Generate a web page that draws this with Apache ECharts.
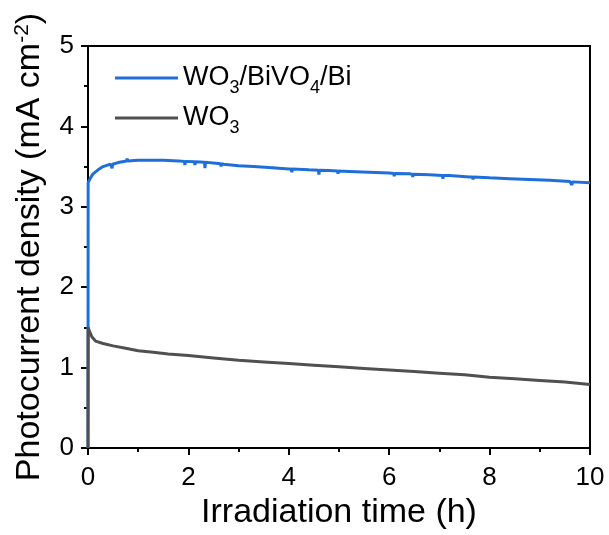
<!DOCTYPE html>
<html>
<head>
<meta charset="utf-8">
<script src="https://cdn.jsdelivr.net/npm/echarts@6/dist/echarts.min.js"></script>
<style>html,body{margin:0;padding:0;background:#fff}#c{width:609px;height:535px}</style>
</head>
<body>
<div id="c"></div>
<script>
// Data (time in h, photocurrent in mA cm^-2)
const blueName = 'WO3/BiVO4/Bi';
const grayName = 'WO3';
const xTicks = [0, 2, 4, 6, 8, 10];
const yTicks = [0, 1, 2, 3, 4, 5];

const blueT = [0, 0.003, 0.05, 0.1, 0.2, 0.3, 0.45, 0.47, 0.48, 0.49, 0.6, 0.77, 0.78, 0.79, 0.8, 1.0, 1.2, 1.5, 1.8, 1.92, 1.93, 1.94, 2.12, 2.13, 2.14, 2.32, 2.33, 2.34, 2.4, 2.64, 2.65, 2.66, 2.7, 3.0, 3.3, 3.6, 4.0, 4.05, 4.06, 4.07, 4.4, 4.59, 4.6, 4.61, 4.8, 4.97, 4.98, 4.99, 5.2, 5.6, 6.0, 6.09, 6.1, 6.11, 6.4, 6.46, 6.47, 6.48, 6.8, 7.06, 7.07, 7.08, 7.2, 7.6, 7.66, 7.67, 7.68, 8.0, 8.4, 8.8, 9.2, 9.6, 9.63, 9.64, 9.65, 10.0];
const blueV = [0, 3.30, 3.36, 3.41, 3.46, 3.50, 3.53, 3.53, 3.48, 3.53, 3.55, 3.57, 3.60, 3.57, 3.57, 3.58, 3.58, 3.58, 3.57, 3.565, 3.52, 3.565, 3.56, 3.52, 3.56, 3.555, 3.48, 3.555, 3.55, 3.535, 3.50, 3.535, 3.53, 3.51, 3.50, 3.49, 3.47, 3.47, 3.43, 3.47, 3.46, 3.455, 3.40, 3.455, 3.45, 3.445, 3.41, 3.445, 3.44, 3.43, 3.42, 3.415, 3.38, 3.415, 3.41, 3.405, 3.37, 3.405, 3.40, 3.39, 3.35, 3.39, 3.39, 3.37, 3.37, 3.34, 3.37, 3.36, 3.35, 3.34, 3.33, 3.315, 3.315, 3.27, 3.31, 3.30];

const grayT = [0, 0.003, 0.03, 0.08, 0.15, 0.3, 0.5, 0.75, 1.0, 1.3, 1.6, 2.0, 2.5, 3.0, 3.5, 4.0, 4.5, 5.0, 5.5, 6.0, 6.5, 7.0, 7.5, 8.0, 8.5, 9.0, 9.5, 10.0];
const grayV = [0, 1.50, 1.45, 1.38, 1.33, 1.30, 1.27, 1.24, 1.21, 1.19, 1.17, 1.15, 1.12, 1.09, 1.07, 1.05, 1.03, 1.01, 0.99, 0.97, 0.95, 0.93, 0.91, 0.88, 0.86, 0.84, 0.82, 0.79];

const FONT = 'Liberation Sans';
const chart = echarts.init(document.getElementById('c'), null, {renderer: 'canvas'});
const zip = (t, v) => t.map((x, i) => [x, v[i]]);

chart.setOption({
  animation: false,
  backgroundColor: '#fff',
  grid: {left: 88, right: 19, top: 46, bottom: 84, show: true, borderColor: '#000', borderWidth: 2, backgroundColor: 'transparent'},
  legend: {
    orient: 'vertical', left: 110, top: 54, itemWidth: 63, itemHeight: 3, itemGap: 2,
    icon: 'rect',
    data: [blueName, grayName],
    formatter: function (n) {
      return n === blueName ? '{a|WO}{s|3}{a|/BiVO}{s|4}{a|/Bi}' : '{a|WO}{s|3}';
    },
    textStyle: {
      fontFamily: FONT, color: '#000',
      rich: {
        a: {fontFamily: FONT, fontSize: 27, lineHeight: 29, verticalAlign: 'middle', color: '#000'},
        s: {fontFamily: FONT, fontSize: 18, lineHeight: 18, padding: [20, 0, 0, 0], verticalAlign: 'middle', color: '#000'}
      }
    }
  },
  xAxis: {
    type: 'value', min: 0, max: 10, interval: 2,
    name: 'Irradiation time (h)', nameLocation: 'middle', nameGap: 48,
    nameTextStyle: {fontFamily: FONT, fontSize: 34, color: '#000'},
    axisLine: {lineStyle: {color: '#000', width: 2}},
    axisTick: {inside: false, length: 7, lineStyle: {color: '#000', width: 2}},
    minorTick: {show: true, splitNumber: 2, length: 4, lineStyle: {color: '#000', width: 2}},
    splitLine: {show: false},
    axisLabel: {fontFamily: FONT, fontSize: 26, color: '#000', margin: 17,
      formatter: v => xTicks.includes(v) ? String(v) : ''}
  },
  yAxis: {
    type: 'value', min: 0, max: 5, interval: 1,
    name: '{a|Photocurrent density (mA cm}{p|-2}{a|)}', nameLocation: 'middle', nameGap: 40,
    nameTextStyle: {fontFamily: FONT, fontSize: 34, color: '#000',
      rich: {
        a: {fontFamily: FONT, fontSize: 34, lineHeight: 36, verticalAlign: 'middle', color: '#000'},
        p: {fontFamily: FONT, fontSize: 21, lineHeight: 21, padding: [0, 0, 15, 0], verticalAlign: 'middle', color: '#000'}
      }},
    axisLine: {lineStyle: {color: '#000', width: 2}},
    axisTick: {inside: false, length: 7, lineStyle: {color: '#000', width: 2}},
    minorTick: {show: true, splitNumber: 2, length: 4, lineStyle: {color: '#000', width: 2}},
    splitLine: {show: false},
    axisLabel: {fontFamily: FONT, fontSize: 26, color: '#000', margin: 14,
      formatter: v => yTicks.includes(v) ? String(v) : ''}
  },
  series: [
    {name: blueName, type: 'line', data: zip(blueT, blueV), showSymbol: false, symbol: 'none',
     lineStyle: {color: '#1f6fdb', width: 3}, itemStyle: {color: '#1f6fdb'}, z: 2},
    {name: grayName, type: 'line', data: zip(grayT, grayV), showSymbol: false, symbol: 'none',
     lineStyle: {color: '#505050', width: 3}, itemStyle: {color: '#505050'}, z: 3}
  ]
});
</script>
</body>
</html>
